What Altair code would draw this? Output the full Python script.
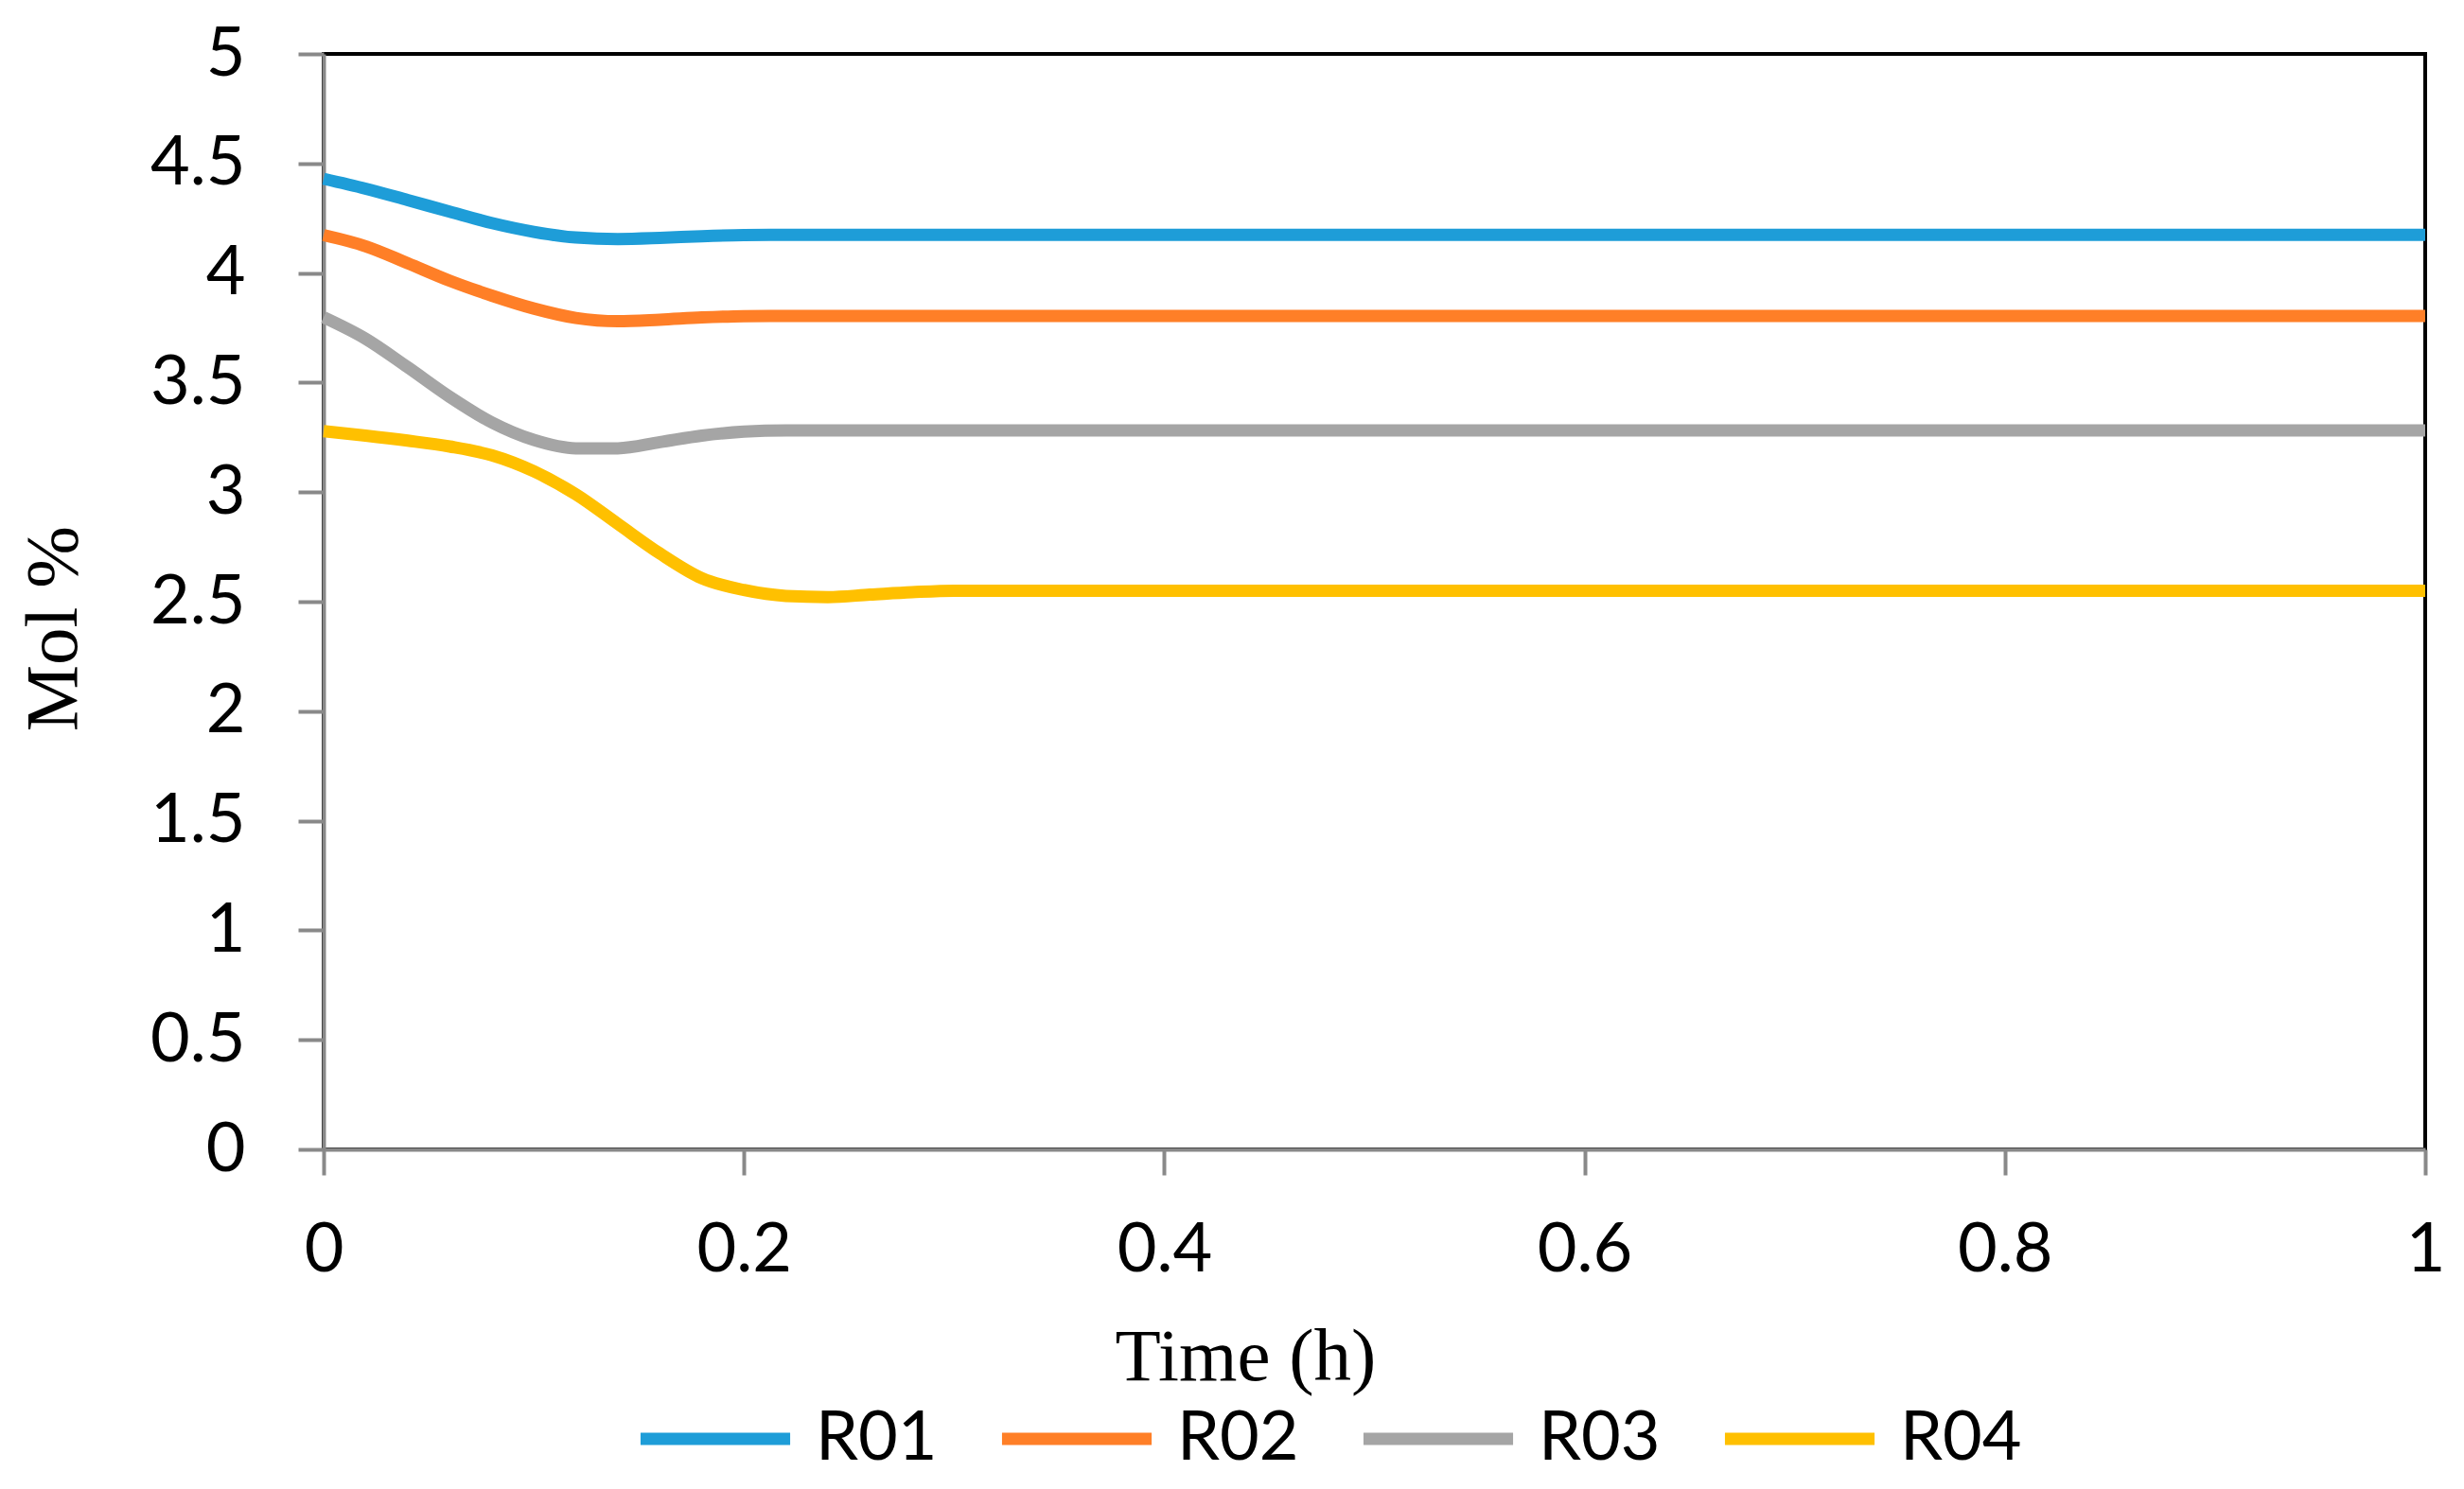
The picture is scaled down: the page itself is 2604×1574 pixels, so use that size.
import altair as alt
import pandas as pd

time_h = [0, 0.02, 0.04, 0.06, 0.08, 0.10, 0.12, 0.14, 0.16, 0.18, 0.20, 0.22, 0.24, 0.26, 0.28, 0.30, 1.0]
r01 = [4.43, 4.385, 4.333, 4.28, 4.228, 4.188, 4.162, 4.155, 4.16, 4.168, 4.173, 4.174, 4.174, 4.174, 4.174, 4.174, 4.174]
r02 = [4.173, 4.122, 4.045, 3.965, 3.897, 3.838, 3.795, 3.78, 3.787, 3.797, 3.803, 3.804, 3.804, 3.804, 3.804, 3.804, 3.804]
r03 = [3.798, 3.70, 3.57, 3.435, 3.318, 3.238, 3.2, 3.2, 3.228, 3.258, 3.276, 3.282, 3.282, 3.282, 3.282, 3.282, 3.282]
r04 = [3.278, 3.258, 3.235, 3.208, 3.168, 3.095, 2.99, 2.855, 2.72, 2.607, 2.553, 2.526, 2.521, 2.532, 2.543, 2.55, 2.55]

series_names = ["R01", "R02", "R03", "R04"]
series_values = [r01, r02, r03, r04]
colors = ["#1E9DD8", "#FF7F27", "#A5A5A5", "#FFC000"]

rows = []
for name, vals in zip(series_names, series_values):
    for t, v in zip(time_h, vals):
        rows.append({"Time": t, "Mol": v, "Series": name})
df = pd.DataFrame(rows)

SANS = "Lato"
SERIF = "Liberation Serif"
AXIS_GRAY = "#898989"

chart = alt.Chart(df).mark_line(strokeWidth=13, interpolate="monotone", strokeCap="butt").encode(
    x=alt.X("Time:Q",
            scale=alt.Scale(domain=[0, 1], nice=False),
            axis=alt.Axis(title="Time (h)", values=[0, 0.2, 0.4, 0.6, 0.8, 1.0],
                          format="~g", grid=False,
                          labelFont=SANS, labelFontSize=72, labelColor="black",
                          labelPadding=44, labelFlush=False, labelOverlap=False,
                          tickSize=27, tickWidth=4, tickColor=AXIS_GRAY,
                          domainColor=AXIS_GRAY, domainWidth=4,
                          titleFont=SERIF, titleFontSize=79, titleFontWeight="normal",
                          titleColor="black", titleX=974, titleY=243,
                          titleAlign="center", titleBaseline="alphabetic")),
    y=alt.Y("Mol:Q",
            scale=alt.Scale(domain=[0, 5], nice=False),
            axis=alt.Axis(title="Mol %", values=[0, 0.5, 1, 1.5, 2, 2.5, 3, 3.5, 4, 4.5, 5],
                          format="~g", grid=False,
                          labelFont=SANS, labelFontSize=72, labelColor="black",
                          labelPadding=56, labelFlush=False, labelOverlap=False,
                          tickSize=27, tickWidth=4, tickColor=AXIS_GRAY,
                          domainColor=AXIS_GRAY, domainWidth=4,
                          titleFont=SERIF, titleFontSize=79, titleFontWeight="normal",
                          titleColor="black", titleX=-262, titleY=607, titleAngle=-90,
                          titleAlign="center", titleBaseline="alphabetic")),
    color=alt.Color("Series:N",
                    scale=alt.Scale(domain=series_names, range=colors),
                    legend=alt.Legend(title=None, orient="none", direction="horizontal",
                                      legendX=328, legendY=1378,
                                      symbolType="stroke", symbolSize=25000,
                                      symbolStrokeWidth=13,
                                      labelFont=SANS, labelFontSize=72, labelColor="black",
                                      labelOffset=20, columnPadding=41, padding=0)),
).properties(
    width=2221,
    height=1158,
    autosize=alt.AutoSizeParams(type="none"),
    padding={"left": 334, "top": 49, "right": 33, "bottom": 351},
).configure(
    background="white"
).configure_view(
    stroke="black", strokeWidth=4
)

chart.save("out.html", embed_options={"renderer": "svg", "actions": False})
